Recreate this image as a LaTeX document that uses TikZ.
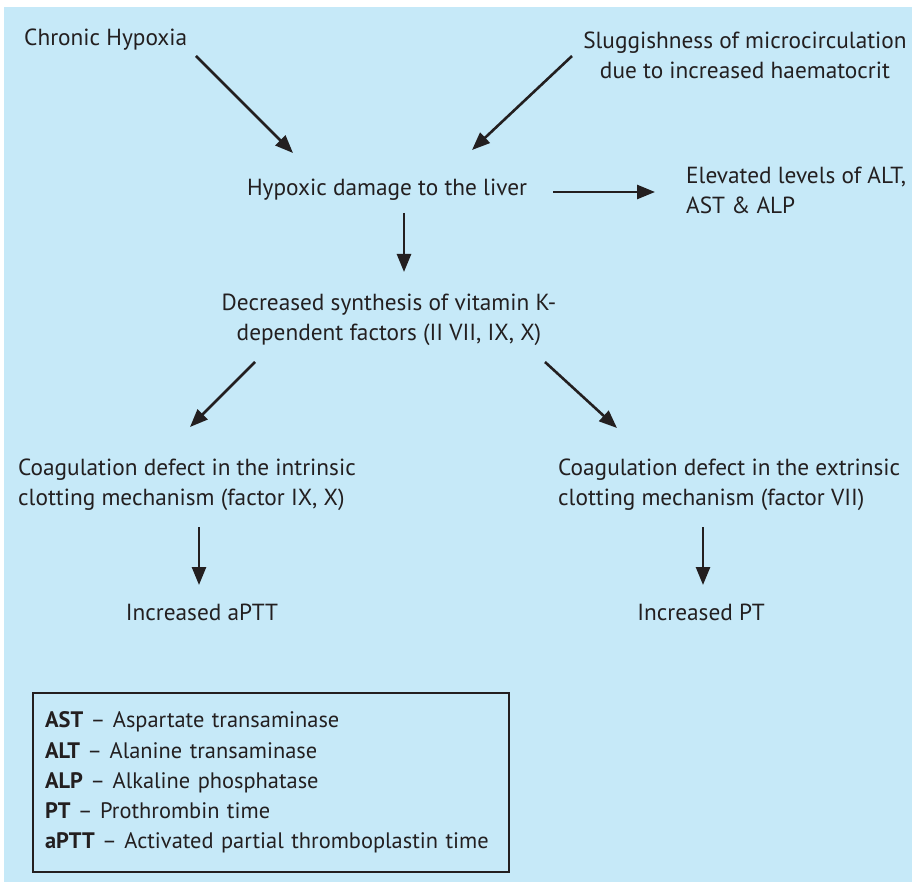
\documentclass[tikz,border=0pt]{standalone}
\usepackage{fontspec}
\setmainfont{PT Sans}
\usetikzlibrary{arrows.meta, positioning}
\definecolor{skyback}{RGB}{198, 233, 248}
\definecolor{inkgray}{RGB}{35, 31, 32}
\tikzset{
  txt/.style={inner sep=2pt, text=inkgray, font=\fontsize{23.3}{30}\selectfont},
  arrow/.style={-{Triangle[length=18pt, width=14pt]}, line width=2.6pt, inkgray},
}

\begin{document}
\begin{tikzpicture}[x=1pt, y=-1pt]

        \useasboundingbox (0,0) rectangle (912,882);
        \fill [skyback] (4,7) rectangle (912,882);

        % Causes
        \node [txt, anchor=west] (hypoxia) at (22,40) {Chronic Hypoxia};
        \node [txt, align=center] (sluggish) at (745,55)
              {Sluggishness of microcirculation\\due to increased haematocrit};

        % Liver
        \node [txt] (damage) at (387,190) {Hypoxic damage to the liver};
        \node [txt, align=left, anchor=west] (enzymes) at (684,190)
              {Elevated levels of ALT,\\AST \& ALP};

        \node [txt, align=center] (synthesis) at (389,320)
              {Decreased synthesis of vitamin K-\\dependent factors (II VII, IX, X)};

        % Coagulation
        \node [txt, align=left, anchor=west] (intrinsic) at (16,485)
              {Coagulation defect in the intrinsic\\clotting mechanism (factor IX, X)};
        \node [txt, align=left, anchor=west] (extrinsic) at (556,485)
              {Coagulation defect in the extrinsic\\clotting mechanism (factor VII)};

        \node [txt] (aptt) at (202,612) {Increased aPTT};
        \node [txt] (pt) at (701,612) {Increased PT};

        % Arrows
        \draw [arrow] ([shift={(174,16)}]hypoxia.west) -- ([shift={(-94,-37)}]damage.center);
        \draw [arrow] ([shift={(-173,1)}]sluggish.center) -- ([shift={(85,-40)}]damage.center);
        \draw [arrow] ([shift={(166,2)}]damage.center) -- ([shift={(-29,2)}]enzymes.west);
        \draw [arrow] ([shift={(17,23)}]damage.center) -- ([shift={(15,-48)}]synthesis.center);
        \draw [arrow] ([shift={(-134,42)}]synthesis.center) -- ([shift={(174,-58)}]intrinsic.west);
        \draw [arrow] ([shift={(156,42)}]synthesis.center) -- ([shift={(61,-57)}]extrinsic.west);
        \draw [arrow] ([shift={(183,42)}]intrinsic.west) -- ([shift={(-3,-27)}]aptt.center);
        \draw [arrow] ([shift={(147,42)}]extrinsic.west) -- ([shift={(2,-27)}]pt.center);

        % Abbreviations
        \node [txt, font=\fontsize{22.4}{30.3}\selectfont, draw=inkgray,
               line width=2.2pt, anchor=north west, align=left,
               text width=452pt, inner xsep=12pt, inner ysep=10pt,
               minimum height=179pt] (legend) at (32,692)
              {\textbf{AST} -- Aspartate transaminase\\
               \textbf{ALT} -- Alanine transaminase\\
               \textbf{ALP} -- Alkaline phosphatase\\
               \textbf{PT} -- Prothrombin time\\
               \textbf{aPTT} -- Activated partial thromboplastin time};

\end{tikzpicture}
\end{document}
